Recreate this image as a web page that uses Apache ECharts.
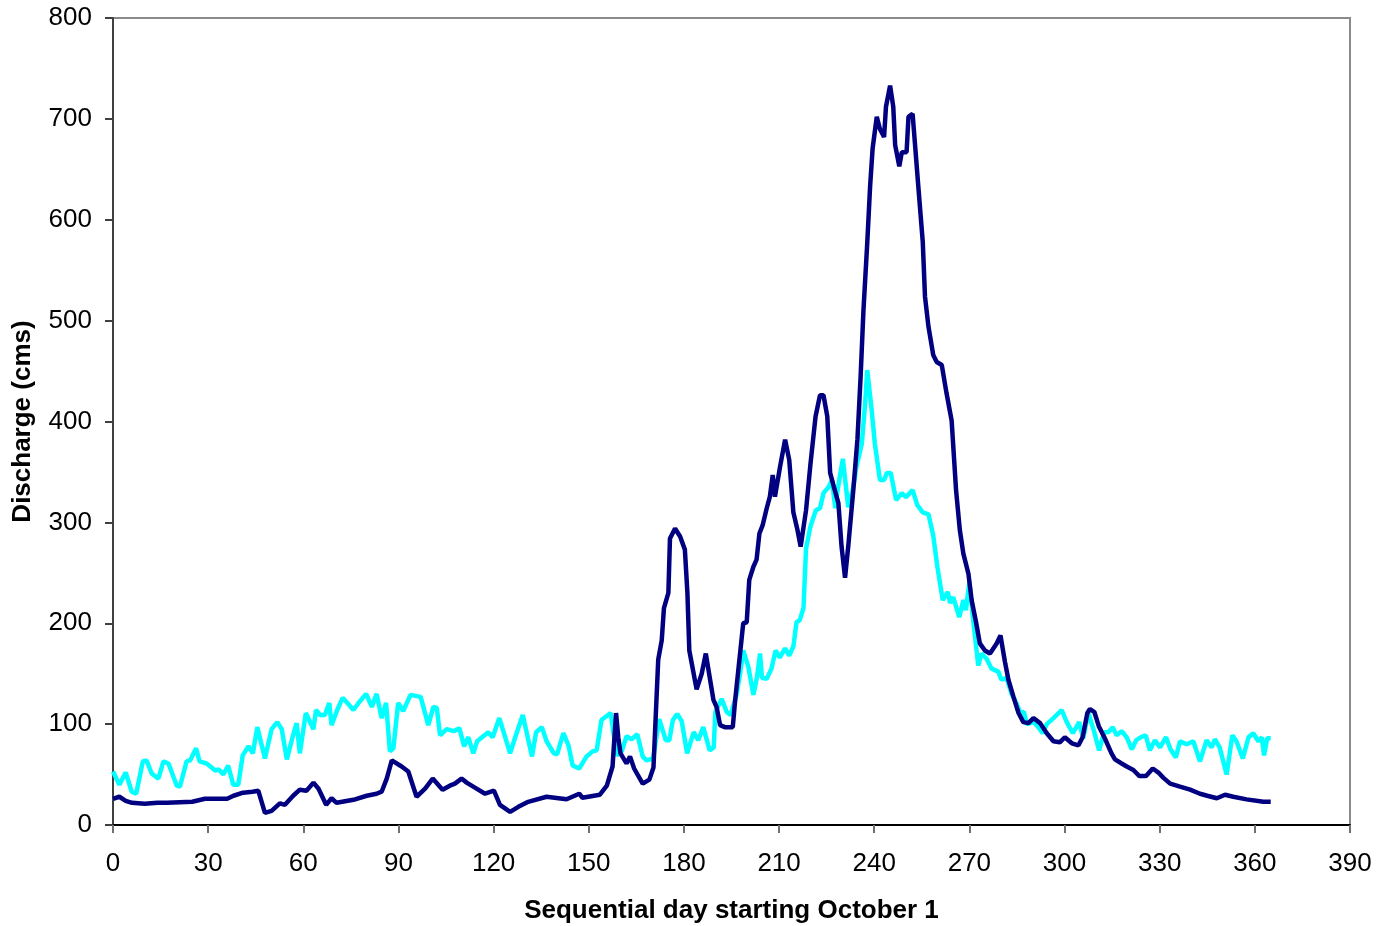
<!DOCTYPE html>
<html>
<head>
<meta charset="utf-8">
<script src="https://cdn.jsdelivr.net/npm/echarts@6/dist/echarts.min.js"></script>
<style>
html,body{margin:0;padding:0;background:#fff;}
#chart{width:1390px;height:926px;}
</style>
</head>
<body>
<div id="chart"></div>
<script>
// Dark (navy) series: day and discharge readings
const darkDays = [0,2,4,6,10,14,17,21,25,29,33,36,38,41,44,45.8,47.9,50,52.6,54.2,56.8,58.9,61,63.2,64.8,67.2,68.9,70.5,75.8,80,83.1,84.7,86.3,87.9,91,93.1,95.7,98.4,100.8,103.9,106.2,107.8,109.9,111.5,114.1,117.3,120.1,122,125.2,127.8,130.9,136.7,143,147,148,153.5,155.7,157.5,158.6,159.3,160,161.9,163,164.3,167,169.1,170.4,171.9,173,173.7,175.1,175.6,177.2,178.8,180.3,181.1,181.7,184,185.6,186.9,189.3,190.3,191.4,192.9,195.4,196.1,197.7,198.7,199.8,200.6,201.9,202.9,203.8,204.8,206.1,207.1,208,208.7,210.3,211.9,213.2,214.5,215.7,216.8,218.5,219.9,221.5,222.9,224,225.2,226.1,227.3,228.7,229.7,230.8,231.8,233.4,234.7,235.7,236.6,237.8,238.7,239.5,240.8,241.8,243.1,243.7,245,246,246.6,247.9,248.7,250.2,250.8,252.1,253.9,255.3,256,257.1,258.6,259.7,261.3,262.8,264.4,265.8,267,268.1,269.7,270.7,272.1,273.3,274.9,276.5,278.6,279.8,281.2,282.3,283.9,285.5,287,288.6,290.2,292.3,294.4,296.5,298.5,300.1,302.3,304.4,305.7,307.2,308,309.4,310.8,312.7,314.8,315.9,318,319.6,321.7,323.6,325.7,327.8,329.6,331.1,333.3,336.4,339.6,342.7,345,348,350.6,353.2,357.4,362.7,365];
const darkFlow = [26,28,24,22,21,22,22,22.5,23,26,26,26,29,32,33,34,12,14,21.5,20,29,35,34,42,36,20,26.5,22,25,29,31,33,46,64,58,53,28,36,46,35,39,41,46,42,37,31,34,20,13,18,23,28,25.5,31,27,30,39,58,111,87,71,61,68,56,41,45,57,164,183,215,230,284,294,286,273,230,173,134.5,150,170,124,117,99,97,97,122,170,200,201,243,256,263,289,297,314,325.5,347,325.5,355,382,362,310,294,276,312,358,405,426,426,405,349,335,319,276,245,276,332,382,444,510,577,633,671,702,690,682,712,733,712,674,653,667,667,702,705,633,578,524,494,466,459,456,428,401,332,292,269,249,223,201,180,173,170,180,188,162,144,127,111,102,101,106,101,91,83,82,87,81,79,87,111,115,112,98,86,71,65,61,58,54.5,48.5,48.5,56,52,47,41,38,35,31,29,26.5,30,28,25.4,23,23];

// Light (cyan) series: day and discharge readings
const lightDays = [0,2,4,5.9,7.3,9.4,10.6,12.2,14.3,15.9,17.5,20.1,21.1,23.2,24.3,26.2,27.3,29.5,31.1,32.2,33.3,34.8,36.3,37.9,39.5,40.9,42.7,44.1,45.5,47.9,50,51.8,53.2,54.8,56.7,57.9,58.9,60.8,63.2,64,65.3,66.8,68.2,68.9,70.7,72.4,73.9,75.8,77.4,79.8,81.6,83.1,84.7,86.1,87.3,88.4,89.9,91.5,93.8,97,99.4,101,102.1,103.1,105.2,107.5,109.2,110.7,112,113.6,114.8,118.3,119.7,121.8,125.2,126.7,129.2,132.1,133.4,135.2,136.7,139,140,142,143.6,144.9,147,149.3,151.2,152.5,154,156.9,158.8,160.4,161.9,163.5,165.3,167,168.2,170.3,172.2,174.3,175.4,176.5,177.9,179.3,181,183.1,184.5,186.1,188.1,189.4,189.9,191.9,193.5,194.7,196.6,197.7,198.7,200.3,201.9,203,204,204.6,206.1,207.6,208.9,210.2,211.9,213.2,214.5,215.5,216.5,217.7,218.5,219.9,221.6,222.9,224,225.6,226.7,227.7,228.5,230.1,231.8,233.4,234.5,236.1,237.2,237.8,239.2,240.2,241.8,243.1,244,245.2,246.9,248.7,250,252.1,253.6,255.3,257.1,258.6,259.9,261.6,263.2,263.9,264.9,266.8,268.1,268.9,270,271.2,272.8,273.8,275.4,277,279.1,280.1,281.7,283.3,284.8,286.1,287.2,288.1,290.2,291.5,293.1,294.4,296.5,299.1,300.7,302.6,303.9,304.6,305.9,307.5,309.2,310.9,312.5,313.8,315.2,316.4,318,319.6,321.2,322.6,324,325.6,326.9,328.5,330.1,332,333.4,335.1,336.4,338.5,340.6,342.7,344.8,346.4,347.4,348.9,351.1,352.9,354.2,356.2,358,359.5,361.1,362.2,362.9,363.9,365];
const lightFlow = [53,40,52,33,31,63,64,51,46,63,61,39,38,63,64,76,63,61,57,54,55,50,59,40,40,69,78,71,97,66,95,102,95,65,88,101,71,111,95,114,109,109,121,99,114,126,121,114,121,130,117,130,106,121,73,76,121,113,129,127,99,117,116,89,95,93,96,78,87,71,83,92,87,106,71,86,109,68,92,97,83,71,70,91,79,59,56,68,73,74,104,111,69,73,88,85,90,68,64,66,105,84,84,104,110,103,71,92,84,97,74,77,112,125,112,109,129,150,173,157,129,146,170,146,145,155,173,166,175,168,177,201,203,215,274,296,312,314,329,335,342,314,333,363,315,335,357,378,421,451,411,378,342,342,349,349,322,329,325,332,317,310,308,287,256,223,231,220,226,206,223,213,241,203,158,170,165,155,152,144,146,130,121,111,112,100,102,98,91,100,106,114,102,91,98,102,86,111,94,74,92,92,97,89,93,87,75,84,87,89,74,84,77,87,75,67,83,80,83,63,84,77,85,77,50,89,83,66,87,91,83,87,69,86,86];

// Axis ticks
const xTickInterval = 30;
const xMax = 390;
const yTickInterval = 100;
const yMax = 800;

const xTitle = 'Sequential day starting October 1';
const yTitle = 'Discharge (cms)';

const darkData = darkDays.map((d, i) => [d, darkFlow[i]]);
const lightData = lightDays.map((d, i) => [d, lightFlow[i]]);

const FONT = 'Arial, "Liberation Sans", sans-serif';

const chart = echarts.init(document.getElementById('chart'), null, {renderer: 'canvas'});
chart.setOption({
  animation: false,
  backgroundColor: '#ffffff',
  grid: {
    left: 113, right: 40, top: 18, bottom: 101,
    containLabel: false,
    outerBoundsMode: 'none',
    show: true, borderColor: '#8a8a8a', borderWidth: 2, backgroundColor: 'transparent'
  },
  xAxis: {
    type: 'value',
    min: 0, max: xMax, interval: xTickInterval,
    name: xTitle,
    nameLocation: 'middle',
    nameGap: 73,
    nameTextStyle: {fontFamily: FONT, fontSize: 26, fontWeight: 'bold', color: '#000'},
    axisLine: {show: true, onZero: false, lineStyle: {color: '#000', width: 2}},
    axisTick: {show: true, inside: false, length: 8, lineStyle: {color: '#707070', width: 2}},
    axisLabel: {margin: 26, fontFamily: FONT, fontSize: 26, color: '#000'},
    splitLine: {show: false}
  },
  yAxis: {
    type: 'value',
    min: 0, max: yMax, interval: yTickInterval,
    name: yTitle,
    nameLocation: 'middle',
    nameGap: 77,
    nameRotate: 90,
    nameTextStyle: {fontFamily: FONT, fontSize: 26, fontWeight: 'bold', color: '#000'},
    axisLine: {show: true, lineStyle: {color: '#404040', width: 2}},
    axisTick: {show: true, inside: false, length: 8, lineStyle: {color: '#404040', width: 2}},
    axisLabel: {margin: 21, fontFamily: FONT, fontSize: 26, color: '#000'},
    splitLine: {show: false}
  },
  series: [
    {
      name: 'Light',
      type: 'line',
      data: lightData,
      showSymbol: false,
      symbol: 'none',
      lineStyle: {color: '#00FFFF', width: 4.5},
      itemStyle: {color: '#00FFFF'},
      z: 2
    },
    {
      name: 'Dark',
      type: 'line',
      data: darkData,
      showSymbol: false,
      symbol: 'none',
      lineStyle: {color: '#000080', width: 4.5},
      itemStyle: {color: '#000080'},
      z: 3
    }
  ]
});
</script>
</body>
</html>
